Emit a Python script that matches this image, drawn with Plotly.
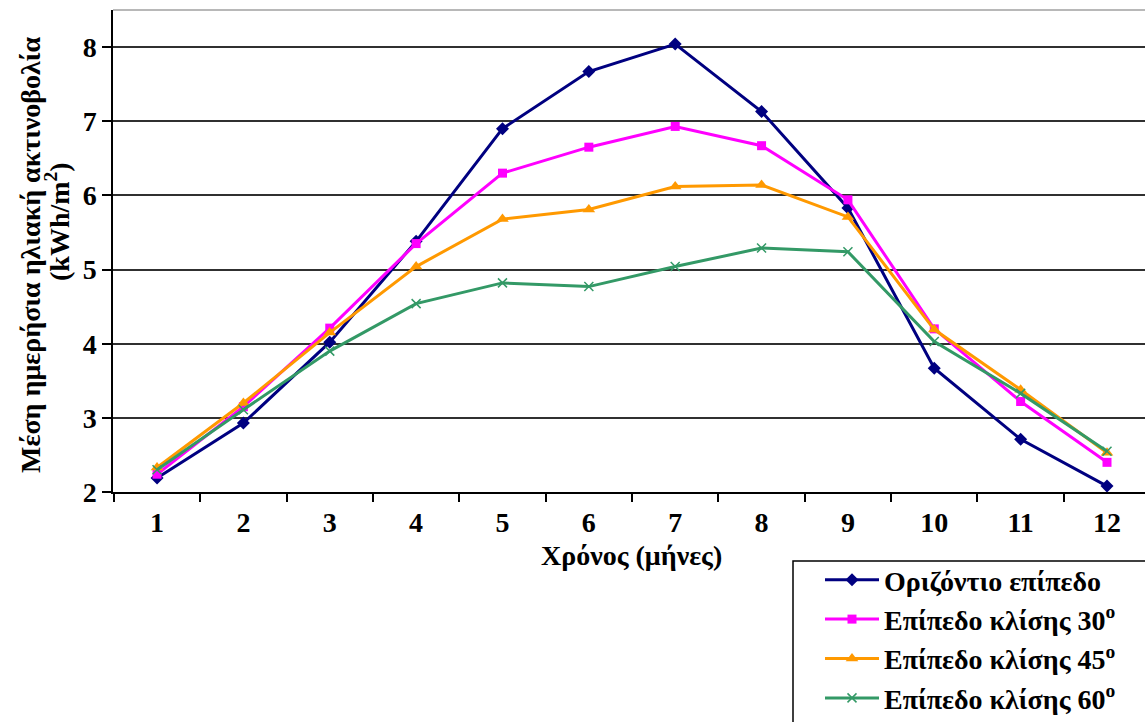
import plotly.graph_objects as go

# Months of the year (category axis)
months = [str(m) for m in range(1, 13)]

# Mean daily solar irradiation (kWh/m2) per month for each surface orientation
horizontal = [2.19, 2.93, 4.02, 5.38, 6.90, 7.67, 8.04, 7.13, 5.83, 3.67, 2.71, 2.08]
tilt_30 = [2.24, 3.15, 4.21, 5.35, 6.30, 6.65, 6.93, 6.67, 5.94, 4.20, 3.22, 2.40]
tilt_45 = [2.33, 3.20, 4.15, 5.04, 5.68, 5.81, 6.12, 6.14, 5.71, 4.19, 3.38, 2.53]
tilt_60 = [2.30, 3.11, 3.90, 4.54, 4.82, 4.77, 5.04, 5.29, 5.24, 4.03, 3.33, 2.55]

series_names = [
    "Οριζόντιο επίπεδο",
    "Επίπεδο κλίσης 30<sup>o</sup>",
    "Επίπεδο κλίσης 45<sup>o</sup>",
    "Επίπεδο κλίσης 60<sup>o</sup>",
]
y_ticks = [2, 3, 4, 5, 6, 7, 8]

SERIF = "'Liberation Serif', 'Times New Roman', 'DejaVu Serif', serif"
W, H = 1145, 722
M_L, M_R, M_T, M_B = 113, 0, 10, 230
plot_w = W - M_L - M_R
plot_h = H - M_T - M_B


def px_x(x):
    """Horizontal pixel position -> paper fraction."""
    return (x - M_L) / plot_w


def px_y(y):
    """Vertical pixel position (from top) -> paper fraction."""
    return (H - M_B - y) / plot_h


styles = [
    dict(color="#000080", marker=dict(symbol="diamond", size=10, color="#000080")),
    dict(color="#FF00FF", marker=dict(symbol="square", size=9, color="#FF00FF")),
    dict(color="#FF9900", marker=dict(symbol="triangle-up", size=11, color="#FF9900")),
    dict(color="#339966", marker=dict(symbol="x-thin", size=9, color="#339966",
                                      line=dict(width=1.5, color="#339966"))),
]

fig = go.Figure()
for name, values, st in zip(series_names, [horizontal, tilt_30, tilt_45, tilt_60], styles):
    fig.add_trace(go.Scatter(
        x=months, y=values, name=name, mode="lines+markers",
        line=dict(color=st["color"], width=3),
        marker=st["marker"],
    ))

bold = lambda size: dict(family=SERIF, size=size, color="black", weight="bold")

fig.update_layout(
    width=W, height=H,
    margin=dict(l=M_L, r=M_R, t=M_T, b=M_B, autoexpand=False),
    paper_bgcolor="white", plot_bgcolor="white",
    font=dict(family=SERIF, color="black"),
    xaxis=dict(
        type="category", range=[-0.51, 11.44],
        tickson="boundaries", ticks="outside", ticklen=8, tickwidth=1.5, tickcolor="black",
        showline=True, linecolor="black", linewidth=2, showgrid=False,
        tickfont=bold(28), ticklabelstandoff=4,
    ),
    yaxis=dict(
        range=[2, 8.5], tickvals=y_ticks, ticktext=[str(v) for v in y_ticks],
        ticks="outside", ticklen=9, tickwidth=1.5, tickcolor="black",
        showline=True, linecolor="black", linewidth=1.5,
        showgrid=True, gridcolor="#303030", gridwidth=1.5, zeroline=False,
        tickfont=bold(28),
    ),
    legend=dict(
        xref="container", yref="container",
        x=820 / W, y=1 - 555 / H, xanchor="left", yanchor="top",
        bgcolor="rgba(0,0,0,0)", borderwidth=0,
        font=bold(28), itemwidth=54,
    ),
    shapes=[
        # light top edge of the plotting area
        dict(type="line", xref="paper", yref="paper", x0=0, x1=1, y0=1, y1=1,
             line=dict(color="#a0a0a0", width=1.5)),
        # legend frame
        dict(type="rect", xref="paper", yref="paper", layer="below",
             x0=px_x(793), x1=px_x(1160), y0=px_y(561), y1=px_y(740),
             line=dict(color="black", width=1.5), fillcolor="white"),
    ],
    annotations=[
        dict(text="Χρόνος (μήνες)", xref="paper", yref="paper",
             x=px_x(631), y=px_y(555), xanchor="center", yanchor="middle",
             showarrow=False, font=bold(28)),
        dict(text="Μέση ημερήσια ηλιακή ακτινοβολία", xref="paper", yref="paper",
             x=px_x(30), y=px_y(255), xanchor="center", yanchor="middle",
             textangle=-90, showarrow=False, font=bold(28)),
        dict(text="(kWh/m<sup>2</sup>)", xref="paper", yref="paper",
             x=px_x(57), y=px_y(222), xanchor="center", yanchor="middle",
             textangle=-90, showarrow=False, font=bold(28)),
    ],
)

fig.write_html("out.html")
